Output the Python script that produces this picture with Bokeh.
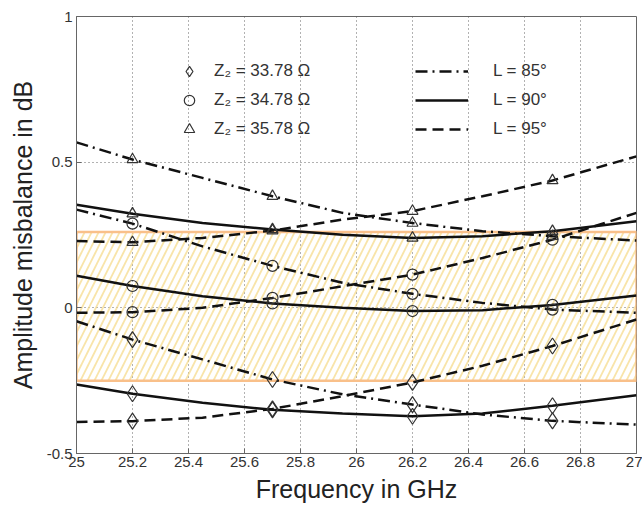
from bokeh.plotting import figure
from bokeh.models import Range1d, FixedTicker, Legend, LegendItem, ColumnDataSource
from bokeh.embed import file_html
from bokeh.resources import INLINE

# ---------------- data ----------------
freq = [25.0, 25.2, 25.45, 25.7, 25.95, 26.2, 26.45, 26.7, 27.0]
marker_freq = [25.2, 25.7, 26.2, 26.7]

z2_labels = ["Z\u2082 = 33.78 \u03a9", "Z\u2082 = 34.78 \u03a9", "Z\u2082 = 35.78 \u03a9"]
l_labels = ["L = 85\u00b0", "L = 90\u00b0", "L = 95\u00b0"]

# Z2 = 33.78 Ohm (diamonds)
dia_85 = [-0.046, -0.109, -0.177, -0.246, -0.297, -0.332, -0.366, -0.388, -0.401]
dia_90 = [-0.263, -0.295, -0.326, -0.350, -0.363, -0.372, -0.363, -0.336, -0.300]
dia_95 = [-0.392, -0.389, -0.377, -0.347, -0.303, -0.256, -0.199, -0.131, -0.040]
# Z2 = 34.78 Ohm (circles)
cir_85 = [0.337, 0.289, 0.211, 0.144, 0.086, 0.048, 0.017, -0.006, -0.017]
cir_90 = [0.110, 0.075, 0.040, 0.015, 0.000, -0.011, -0.008, 0.010, 0.042]
cir_95 = [-0.017, -0.015, 0.000, 0.034, 0.074, 0.114, 0.171, 0.234, 0.326]
# Z2 = 35.78 Ohm (triangles)
tri_85 = [0.568, 0.509, 0.446, 0.383, 0.326, 0.291, 0.263, 0.246, 0.231]
tri_90 = [0.354, 0.323, 0.291, 0.269, 0.251, 0.240, 0.246, 0.263, 0.297]
tri_95 = [0.229, 0.225, 0.240, 0.265, 0.303, 0.332, 0.383, 0.437, 0.520]

band_lo = -0.25
band_hi = 0.26

x_ticks = [25.0, 25.2, 25.4, 25.6, 25.8, 26.0, 26.2, 26.4, 26.6, 26.8, 27.0]
x_tick_labels = ["25", "25.2", "25.4", "25.6", "25.8", "26", "26.2", "26.4", "26.6", "26.8", "27"]
y_ticks = [-0.5, 0.0, 0.5, 1.0]
y_tick_labels = ["-0.5", "0", "0.5", "1"]

# ---------------- figure ----------------
p = figure(width=642, height=510, output_backend="svg", toolbar_location=None,
           x_range=Range1d(25, 27), y_range=Range1d(-0.5, 1),
           min_border_left=76, min_border_right=6, min_border_top=16, min_border_bottom=57)
p.background_fill_color = "white"
p.border_fill_color = "white"
p.outline_line_color = "#666666"
p.outline_line_width = 1

for ax in (p.xaxis[0], p.yaxis[0]):
    ax.major_tick_in = 5
    ax.major_tick_out = 0
    ax.minor_tick_line_color = None
    ax.axis_line_color = "#666666"
    ax.major_tick_line_color = "#666666"
    ax.major_label_text_font = "Liberation Sans"
    ax.major_label_text_font_size = "15px"
    ax.major_label_text_color = "#333333"
    ax.axis_label_text_font = "Liberation Sans"
    ax.axis_label_text_font_size = "25px"
    ax.axis_label_text_font_style = "normal"
    ax.axis_label_text_color = "#222222"

p.xaxis.ticker = FixedTicker(ticks=x_ticks)
p.yaxis.ticker = FixedTicker(ticks=y_ticks)
p.xaxis.major_label_overrides = dict(zip(x_ticks, x_tick_labels))
p.yaxis.major_label_overrides = dict(zip(y_ticks, y_tick_labels))
p.xaxis.axis_label = "Frequency in GHz"
p.yaxis.axis_label = "Amplitude misbalance in dB"
p.xaxis.major_label_standoff = 3
p.yaxis.major_label_standoff = 4
p.xaxis.axis_label_standoff = 5
p.yaxis.axis_label_standoff = 7

for g in (p.xgrid[0], p.ygrid[0]):
    g.grid_line_color = "#555555"
    g.grid_line_dash = "1 3"
    g.grid_line_width = 1
    g.grid_line_alpha = 0.9
p.xgrid.ticker = FixedTicker(ticks=x_ticks)
p.ygrid.ticker = FixedTicker(ticks=y_ticks)

# hatched tolerance band
p.quad(left=[freq[0]], right=[freq[-1]], bottom=[band_lo], top=[band_hi],
       fill_color=None, line_color="#f9c08a", line_width=2.5,
       hatch_pattern="/", hatch_color="#f5d985", hatch_alpha=0.7,
       hatch_scale=14, hatch_weight=1.8)

# ---------------- curves ----------------
dashes = ["12 5 2 5", "solid", "11 6"]
groups = [(dia_85, dia_90, dia_95), (cir_85, cir_90, cir_95), (tri_85, tri_90, tri_95)]
marker_types = ["diamond", "circle", "triangle"]
marker_sizes = [16, 11, 11]

line_renderers = {}
scatter_renderers = []
idx = [freq.index(f) for f in marker_freq]
for gi, series in enumerate(groups):
    mx, my = [], []
    for li, ys in enumerate(series):
        r = p.line(freq, ys, line_color="#111111", line_width=2.5, line_dash=dashes[li])
        line_renderers.setdefault(li, r)
        mx += [freq[i] for i in idx]
        my += [ys[i] for i in idx]
    src = ColumnDataSource(dict(x=mx, y=my))
    s = p.scatter("x", "y", source=src, marker=marker_types[gi], size=marker_sizes[gi],
                  fill_color=None, line_color="#333333", line_width=1.2)
    scatter_renderers.append(s)

# ---------------- legends ----------------
leg1 = Legend(items=[LegendItem(label=z2_labels[i], renderers=[scatter_renderers[i]]) for i in range(3)],
              location=(99, 311), orientation="vertical",
              glyph_width=28, glyph_height=26, spacing=3, label_standoff=11,
              padding=0, margin=0, border_line_color=None, background_fill_alpha=0,
              label_text_font="Liberation Sans", label_text_font_size="17px",
              label_text_color="#333333", label_height=26)
leg2 = Legend(items=[LegendItem(label=l_labels[i], renderers=[line_renderers[i]]) for i in range(3)],
              location=(339, 311), orientation="vertical",
              glyph_width=53, glyph_height=26, spacing=3, label_standoff=25,
              padding=0, margin=0, border_line_color=None, background_fill_alpha=0,
              label_text_font="Liberation Sans", label_text_font_size="17px",
              label_text_color="#333333", label_height=26)
p.add_layout(leg1, "center")
p.add_layout(leg2, "center")

open("out.html", "w").write(file_html(p, INLINE))
